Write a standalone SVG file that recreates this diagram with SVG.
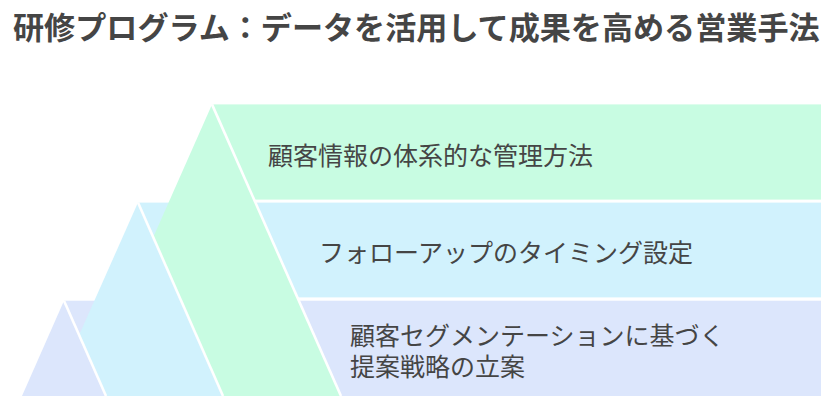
<svg xmlns="http://www.w3.org/2000/svg" width="829" height="405" viewBox="0 0 829 405">
<style>
.t{font-family:"Noto Sans CJK JP","Noto Sans",sans-serif;fill:#454545;}
.title{font-size:31.1px;font-weight:700;}
.lbl{font-size:25px;font-weight:400;}
.edge{stroke:#ffffff;stroke-width:2.6;fill:none;}
.g{fill:#c8fce2;}
.b{fill:#d1f2fd;}
.l{fill:#dce6fc;}
</style>
<rect width="829" height="405" fill="#ffffff"/>
<text class="t title" x="13" y="25.5" dominant-baseline="central">研修プログラム：データを活用して成果を高める営業手法</text>
<g id="bands">
<rect id="band-lavender" class="l" x="64" y="300.7" width="757" height="95.3"/>
<rect id="band-blue" class="b" x="138" y="202.6" width="683" height="94.8"/>
<rect id="band-green" class="g" x="212" y="104.4" width="609" height="95.2"/>
</g>
<g id="node-green">
<polygon class="g" points="212,104.4 83,396 341,396"/>
<line class="edge" x1="212" y1="104.4" x2="341" y2="396"/>
</g>
<g id="node-blue">
<polygon class="b" points="138,202.6 52,396 223,396"/>
<line class="edge" x1="138" y1="202.6" x2="223" y2="396"/>
</g>
<g id="node-lavender">
<polygon class="l" points="64,300.7 22,396 106,396"/>
<line class="edge" x1="64" y1="300.7" x2="106" y2="396"/>
</g>
<g id="labels">
<text class="t lbl" x="268" y="154" dominant-baseline="central">顧客情報の体系的な管理方法</text>
<text class="t lbl" x="319" y="251" dominant-baseline="central">フォローアップのタイミング設定</text>
<text class="t lbl" x="350" y="333.5" dominant-baseline="central">顧客セグメンテーションに基づく</text>
<text class="t lbl" x="350" y="365" dominant-baseline="central">提案戦略の立案</text>
</g>
<g id="connectors"/>
</svg>
